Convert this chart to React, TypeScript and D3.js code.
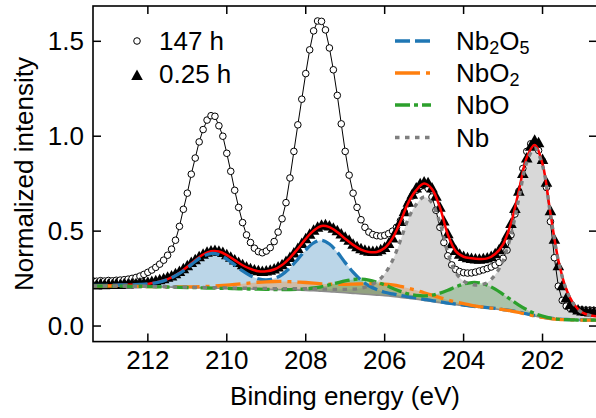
import React from 'react';
import * as d3 from 'd3';

const W = 596;
const H = 418;

// energy grid: first value and steps (eV)
const E_START = 213.4;
const DATA_STEP = 0.1;
const FIT_STEP = 0.2;

// 147 h measurement (open circles), 0.1 eV steps from 213.4 eV
const data147h = [
  0.238, 0.236, 0.239, 0.237, 0.240, 0.238, 0.241, 0.242, 0.244, 0.247,
  0.251, 0.256, 0.263, 0.272, 0.283, 0.295, 0.309, 0.326, 0.347, 0.373,
  0.405, 0.452, 0.525, 0.615, 0.700, 0.800, 0.885, 0.970, 1.035, 1.085,
  1.108, 1.105, 1.055, 1.000, 0.910, 0.815, 0.715, 0.625, 0.545, 0.480,
  0.440, 0.410, 0.392, 0.386, 0.395, 0.413, 0.445, 0.495, 0.565, 0.650,
  0.780, 0.920, 1.060, 1.195, 1.330, 1.455, 1.555, 1.607, 1.605, 1.560,
  1.465, 1.350, 1.215, 1.065, 0.920, 0.795, 0.700, 0.625, 0.560, 0.520,
  0.495, 0.482, 0.476, 0.474, 0.478, 0.487, 0.500, 0.520, 0.555, 0.600,
  0.645, 0.685, 0.715, 0.735, 0.740, 0.725, 0.680, 0.610, 0.520, 0.440,
  0.370, 0.322, 0.298, 0.287, 0.281, 0.279, 0.280, 0.284, 0.290, 0.296,
  0.303, 0.311, 0.321, 0.335, 0.357, 0.400, 0.480, 0.590, 0.710, 0.830,
  0.920, 0.960, 0.958, 0.925, 0.870, 0.730, 0.550, 0.360, 0.210, 0.135,
  0.105, 0.093, 0.088, 0.086, 0.085, 0.084, 0.084, 0.083, 0.083,
];

// 0.25 h measurement (filled triangles), 0.1 eV steps from 213.4 eV
const data025h = [
  0.222, 0.219, 0.224, 0.220, 0.223, 0.221, 0.225, 0.222, 0.226, 0.224,
  0.227, 0.226, 0.229, 0.231, 0.233, 0.237, 0.241, 0.246, 0.252, 0.259,
  0.266, 0.278, 0.290, 0.305, 0.320, 0.337, 0.352, 0.368, 0.381, 0.392,
  0.398, 0.401, 0.397, 0.390, 0.378, 0.365, 0.351, 0.337, 0.325, 0.314,
  0.305, 0.298, 0.294, 0.290, 0.292, 0.296, 0.303, 0.313, 0.326, 0.343,
  0.364, 0.387, 0.411, 0.437, 0.462, 0.486, 0.507, 0.523, 0.533, 0.536,
  0.529, 0.518, 0.504, 0.487, 0.470, 0.454, 0.433, 0.420, 0.410, 0.402,
  0.397, 0.395, 0.397, 0.404, 0.417, 0.437, 0.467, 0.507, 0.553, 0.605,
  0.655, 0.697, 0.730, 0.752, 0.762, 0.757, 0.730, 0.686, 0.628, 0.556,
  0.489, 0.436, 0.400, 0.381, 0.369, 0.362, 0.358, 0.356, 0.355, 0.357,
  0.361, 0.369, 0.383, 0.404, 0.436, 0.481, 0.543, 0.622, 0.713, 0.806,
  0.888, 0.950, 0.982, 0.968, 0.880, 0.760, 0.610, 0.460, 0.320, 0.215,
  0.150, 0.115, 0.097, 0.087, 0.082, 0.079, 0.077, 0.076, 0.075,
];

// fit of the 0.25 h spectrum, 0.2 eV steps from 213.4 eV
const background = [
  0.210, 0.210, 0.210, 0.210, 0.210,
  0.209, 0.209, 0.208, 0.207, 0.206,
  0.205, 0.204, 0.203, 0.202, 0.201,
  0.200, 0.199, 0.198, 0.197, 0.196,
  0.195, 0.194, 0.193, 0.192, 0.191,
  0.190, 0.189, 0.188, 0.186, 0.183,
  0.181, 0.178, 0.175, 0.172, 0.169,
  0.166, 0.163, 0.160, 0.156, 0.151,
  0.146, 0.141, 0.135, 0.129, 0.123,
  0.117, 0.112, 0.107, 0.102, 0.098,
  0.094, 0.090, 0.085, 0.079, 0.071,
  0.062, 0.053, 0.045, 0.039, 0.035,
  0.033, 0.032, 0.031, 0.031, 0.031,
];
// component intensities above the background
const nb2o5 = [
  0.004, 0.004, 0.005, 0.006, 0.007,
  0.008, 0.010, 0.014, 0.021, 0.032,
  0.049, 0.073, 0.104, 0.138, 0.167,
  0.182, 0.177, 0.155, 0.125, 0.094,
  0.070, 0.054, 0.050, 0.058, 0.080,
  0.117, 0.163, 0.213, 0.252, 0.269,
  0.251, 0.211, 0.159, 0.112, 0.073,
  0.046, 0.029, 0.018, 0.013, 0.010,
  0.008, 0.007, 0.006, 0.005, 0.005,
  0.004, 0.004, 0.0035, 0.003, 0.003,
  0.003, 0.003, 0.002, 0.002, 0.002,
  0.002, 0.002, 0.002, 0.002, 0.002,
  0.0015, 0.0015, 0.001, 0.001, 0.001,
];
const nbo2 = [
  0, 0, 0, 0, 0,
  0, 0, 0, 0.0004, 0.0006,
  0.001, 0.002, 0.003, 0.0045, 0.0067,
  0.0096, 0.0132, 0.0175, 0.0222, 0.0272,
  0.032, 0.0366, 0.040, 0.0426, 0.0438,
  0.0437, 0.0428, 0.0414, 0.0403, 0.0396,
  0.0401, 0.0419, 0.0448, 0.0487, 0.0529,
  0.0569, 0.0598, 0.0611, 0.0605, 0.058,
  0.0532, 0.0474, 0.0406, 0.0335, 0.0266,
  0.0203, 0.0149, 0.0106, 0.0071, 0.0047,
  0.0029, 0.0018, 0.001, 0.0006, 0.0003,
  0, 0, 0, 0, 0,
  0, 0, 0, 0, 0,
];
const nbo = [
  0, 0, 0, 0, 0,
  0, 0, 0, 0, 0,
  0, 0, 0, 0, 0,
  0, 0, 0, 0, 0,
  0, 0, 0.0001, 0.0003, 0.0008,
  0.0019, 0.0041, 0.008, 0.0144, 0.0236,
  0.0357, 0.0494, 0.0626, 0.0729, 0.0778,
  0.0761, 0.0684, 0.0565, 0.0433, 0.0315,
  0.0233, 0.0204, 0.0239, 0.0338, 0.0502,
  0.0712, 0.0939, 0.1139, 0.1269, 0.1296,
  0.1215, 0.1044, 0.0823, 0.0595, 0.0394,
  0.0239, 0.0133, 0.0068, 0.0032, 0.0014,
  0.0005, 0.0002, 0, 0, 0,
];
const nb = [
  0, 0, 0, 0, 0,
  0, 0, 0, 0.001, 0.001,
  0.001, 0.001, 0.002, 0.002, 0.002,
  0.002, 0.003, 0.003, 0.003, 0.003,
  0.004, 0.004, 0.005, 0.005, 0.006,
  0.007, 0.008, 0.009, 0.010, 0.012,
  0.013, 0.015, 0.018, 0.022, 0.030,
  0.045, 0.070, 0.115, 0.190, 0.300,
  0.420, 0.500, 0.545, 0.520, 0.420,
  0.270, 0.170, 0.130, 0.118, 0.118,
  0.135, 0.180, 0.260, 0.400, 0.600,
  0.800, 0.885, 0.800, 0.550, 0.310,
  0.160, 0.080, 0.040, 0.025, 0.018,
];

const xTicks = [212, 210, 208, 206, 204, 202];
const yTicks = [0.0, 0.5, 1.0, 1.5];
const sampleLabels = ['147 h', '0.25 h'];

const L = 93, R = 597, T = 6, B = 341.6;
const FONT = '"Liberation Sans", Arial, Helvetica, sans-serif';
const FS = 26;

const x = d3.scaleLinear().domain([213.39, 200.62]).range([L, R]);
const y = d3.scaleLinear().domain([-0.082, 1.686]).range([B, T]);

const dataE = data147h.map((_, i) => +(E_START - DATA_STEP * i).toFixed(2));
const fitE = background.map((_, i) => +(E_START - FIT_STEP * i).toFixed(2));

const components = [
  { key: 'nb2o5', vals: nb2o5, color: '#1f77b4', dash: '15 5' },
  { key: 'nbo2', vals: nbo2, color: '#ff7f0e', dash: '25 6 4 6' },
  { key: 'nbo', vals: nbo, color: '#2ca02c', dash: '15 4 4 4' },
  { key: 'nb', vals: nb, color: '#7f7f7f', dash: '4.5 5.5' },
];

const envelope = background.map(
  (b, i) => b + nb2o5[i] + nbo2[i] + nbo[i] + nb[i]
);

const TRI = 'M0,-5.5 L5.8,5 L-5.8,5 Z';

export default function App() {
  const curve = d3.curveCatmullRom.alpha(0.5);
  const lineFit = d3
    .line<number>()
    .x((_, i) => x(fitE[i]))
    .y((v) => y(v))
    .curve(curve);
  const areaFor = (vals: number[]) =>
    d3
      .area<number>()
      .x((_, i) => x(fitE[i]))
      .y0((_, i) => y(background[i]))
      .y1((v, i) => y(background[i] + v))
      .curve(curve)(vals) as string;
  const lineData = d3
    .line<number>()
    .x((_, i) => x(dataE[i]))
    .y((v) => y(v));

  const n025 = Math.min(data025h.length, dataE.length);

  return (
    <svg
      width={W}
      height={H}
      viewBox={`0 0 ${W} ${H}`}
      style={{ position: 'absolute', left: 0, top: 0, background: '#fff' }}
      fontFamily={FONT}
    >
      <defs>
        <clipPath id="plot">
          <rect x={L} y={T} width={R - L} height={B - T} />
        </clipPath>
      </defs>
      <rect x={0} y={0} width={W} height={H} fill="#fff" />
      <g clipPath="url(#plot)">
        {components.map((c) => (
          <path key={'f' + c.key} d={areaFor(c.vals)} fill={c.color} fillOpacity={0.3} stroke="none" />
        ))}
        <path d={lineData(data147h) as string} fill="none" stroke="#000" strokeWidth={1} />
        {data147h.map((v, i) => (
          <circle key={'c' + i} cx={x(dataE[i])} cy={y(v)} r={3.3} fill="#fff" stroke="#000" strokeWidth={1} />
        ))}
        {data025h.slice(0, n025).map((v, i) => (
          <path key={'t' + i} d={TRI} transform={`translate(${x(dataE[i])},${y(v)})`} fill="#000" />
        ))}
        <path d={lineFit(envelope) as string} fill="none" stroke="#ff0000" strokeWidth={2.5} />
        <path d={lineFit(background) as string} fill="none" stroke="#8c8c8c" strokeWidth={1.6} />
        {components.map((c) => (
          <path
            key={'l' + c.key}
            d={lineFit(c.vals.map((v, i) => v + background[i])) as string}
            fill="none"
            stroke={c.color}
            strokeWidth={3.3}
            strokeDasharray={c.dash}
          />
        ))}
      </g>

      {/* frame */}
      <rect x={L} y={T} width={R - L} height={B - T} fill="none" stroke="#000" strokeWidth={1.6} />
      {xTicks.map((t) => (
        <g key={'xt' + t}>
          <line x1={x(t)} x2={x(t)} y1={B} y2={B - 8} stroke="#000" strokeWidth={1.5} />
          <line x1={x(t)} x2={x(t)} y1={T} y2={T + 8} stroke="#000" strokeWidth={1.5} />
          <text x={x(t)} y={369} textAnchor="middle" fontSize={FS} fill="#000">
            {t}
          </text>
        </g>
      ))}
      {yTicks.map((t) => (
        <g key={'yt' + t}>
          <line x1={L} x2={L + 8} y1={y(t)} y2={y(t)} stroke="#000" strokeWidth={1.5} />
          <line x1={R} x2={R - 8} y1={y(t)} y2={y(t)} stroke="#000" strokeWidth={1.5} />
          <text x={84} y={y(t) + 9} textAnchor="end" fontSize={FS} fill="#000">
            {t.toFixed(1)}
          </text>
        </g>
      ))}
      <text x={(L + R) / 2} y={405} textAnchor="middle" fontSize={FS} fill="#000">
        Binding energy (eV)
      </text>
      <text transform="translate(33,174) rotate(-90)" textAnchor="middle" fontSize={FS} fill="#000">
        Normalized intensity
      </text>

      {/* sample legend */}
      <circle cx={137} cy={41} r={3.3} fill="#fff" stroke="#000" strokeWidth={1} />
      <text x={159} y={50} fontSize={FS} fill="#000">{sampleLabels[0]}</text>
      <path d={TRI} transform="translate(137,75)" fill="#000" />
      <text x={159} y={83} fontSize={FS} fill="#000">{sampleLabels[1]}</text>

      {/* component legend */}
      {components.map((c, i) => {
        const cy = [41, 73, 105, 137.5][i];
        return (
          <line key={'lg' + c.key} x1={395} x2={431} y1={cy} y2={cy} stroke={c.color} strokeWidth={3.3} strokeDasharray={c.dash} />
        );
      })}
      <text x={456} y={50} fontSize={FS} fill="#000">
        Nb<tspan fontSize={18} dy={4}>2</tspan><tspan dy={-4}>O</tspan><tspan fontSize={18} dy={4}>5</tspan>
      </text>
      <text x={456} y={82} fontSize={FS} fill="#000">
        NbO<tspan fontSize={18} dy={4}>2</tspan>
      </text>
      <text x={456} y={114} fontSize={FS} fill="#000">NbO</text>
      <text x={456} y={146.5} fontSize={FS} fill="#000">Nb</text>
    </svg>
  );
}
